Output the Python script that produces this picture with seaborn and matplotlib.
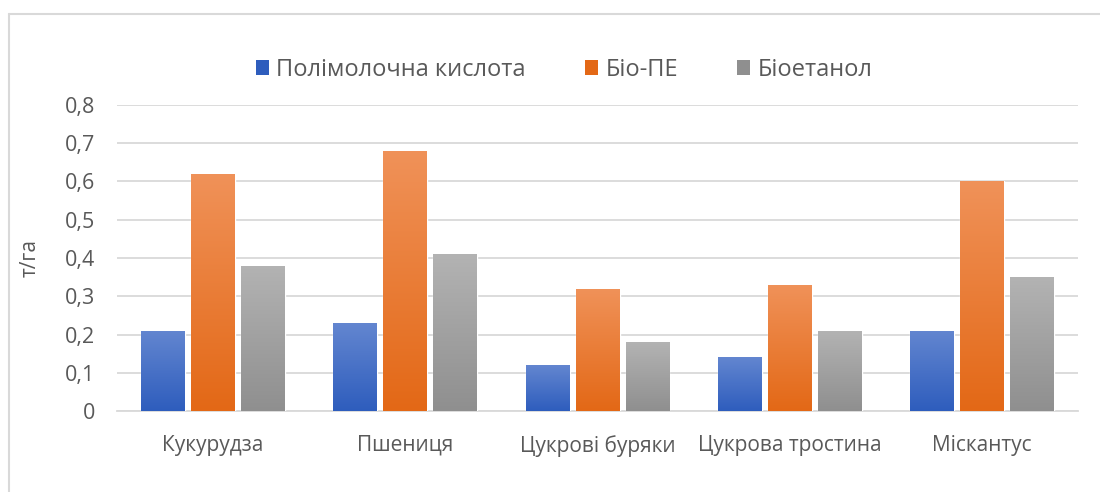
import numpy as np
import pandas as pd
import matplotlib
matplotlib.use("Agg")
import matplotlib.pyplot as plt
from matplotlib.colors import LinearSegmentedColormap
from matplotlib.patches import Rectangle
from matplotlib.lines import Line2D
from matplotlib.ticker import FuncFormatter
import seaborn as sns

# ============================================================
# DATA
# ============================================================

crops = ["Кукурудза", "Пшениця", "Цукрові буряки", "Цукрова тростина", "Міскантус"]
series = ["Полімолочна кислота", "Біо-ПЕ", "Біоетанол"]

pla = [0.21, 0.23, 0.12, 0.14, 0.21]
bio_pe = [0.62, 0.68, 0.32, 0.33, 0.60]
bioethanol = [0.38, 0.41, 0.18, 0.21, 0.35]

# gradient top / bottom colours per series
grad = {
    "Полімолочна кислота": ("#6386d0", "#2e5dbd"),
    "Біо-ПЕ": ("#f09259", "#e36816"),
    "Біоетанол": ("#b3b3b3", "#8f8f8f"),
}

# ============================================================
# STYLE
# ============================================================

sns.set_style("white")
plt.rcParams["font.family"] = ["Open Sans", "DejaVu Sans"]
TXT = "#595959"

df = pd.DataFrame({
    "crop": crops * 3,
    "series": [series[0]] * 5 + [series[1]] * 5 + [series[2]] * 5,
    "value": pla + bio_pe + bioethanol,
})

fig = plt.figure(figsize=(11, 4.92), dpi=100)
ax = fig.add_axes([0.1064, 0.1646, 0.8736, 0.622])

# chart border (left and top edges visible)
fig.add_artist(Line2D([8.5 / 1100, 8.5 / 1100], [0, 1 - 13.5 / 492], transform=fig.transFigure,
                      color="#d9d9d9", lw=1.5))
fig.add_artist(Line2D([8.5 / 1100, 1], [1 - 13.5 / 492, 1 - 13.5 / 492], transform=fig.transFigure,
                      color="#d9d9d9", lw=1.5))

palette = {k: v[1] for k, v in grad.items()}
sns.barplot(data=df, x="crop", y="value", hue="series", palette=palette,
            width=0.78, gap=0.12, ax=ax, legend=False, zorder=3)

# ============================================================
# GRADIENT FILL
# ============================================================

ax.set_ylim(0, 0.8)
ax.set_xlim(-0.5, len(crops) - 0.5)

ramp = np.linspace(0, 1, 256).reshape(-1, 1)
for i, name in enumerate(series):
    cmap = LinearSegmentedColormap.from_list(name, [grad[name][1], grad[name][0]])
    for bar in ax.containers[i]:
        x0, y0 = bar.get_x(), bar.get_y()
        w, h = bar.get_width(), bar.get_height()
        img = ax.imshow(ramp, cmap=cmap, vmin=0, vmax=1, origin="lower",
                        extent=[x0, x0 + w, y0, y0 + h], aspect="auto", zorder=3)
        img.set_clip_path(bar)
        bar.set_facecolor("none")

ax.set_ylim(0, 0.8)
ax.set_xlim(-0.5, len(crops) - 0.5)

# ============================================================
# AXES
# ============================================================

ax.set_yticks(np.arange(0, 0.81, 0.1))
ax.yaxis.set_major_formatter(FuncFormatter(lambda v, p: f"{v:.1f}".replace(".", ",") if v > 0.001 else "0"))
ax.grid(axis="y", color="#d9d9d9", lw=1.3, zorder=0)
ax.set_axisbelow(True)

for s in ["top", "right", "left"]:
    ax.spines[s].set_visible(False)
ax.spines["bottom"].set_color("#d9d9d9")
ax.spines["bottom"].set_linewidth(1.3)

ax.tick_params(axis="y", length=0, labelsize=15.5, colors=TXT, pad=16)
ax.tick_params(axis="x", length=0, labelsize=15, colors=TXT, pad=17)
ax.set_xlabel("")
ax.set_ylabel("т/га", fontsize=15, color=TXT)
ax.yaxis.set_label_coords(-0.08, 0.5)

# legend
handles = []
for name in series:
    handles.append(Rectangle((0, 0), 1, 1, facecolor=grad[name][1], edgecolor="none"))
fig.legend(handles, series, loc="center", bbox_to_anchor=(0.513, 0.858), ncol=3,
           frameon=False, fontsize=17, labelcolor=TXT, handlelength=0.55,
           handleheight=0.55, handletextpad=0.33, columnspacing=2.5)

fig.savefig("out.png", dpi=100)
